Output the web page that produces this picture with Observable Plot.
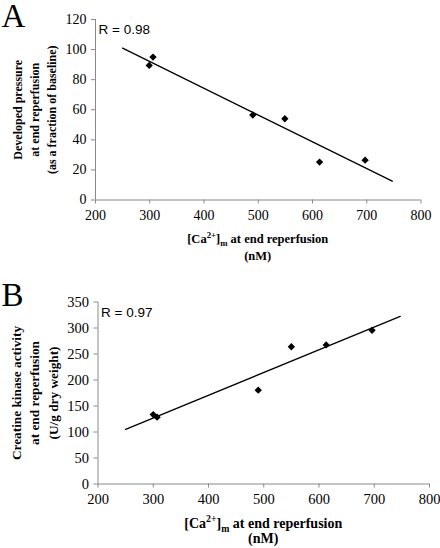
<!DOCTYPE html>
<html>
<head>
<meta charset="utf-8">
<script src="https://cdn.jsdelivr.net/npm/d3@7"></script>
<script src="https://cdn.jsdelivr.net/npm/@observablehq/plot@0.6"></script>
<style>
  html, body { margin: 0; padding: 0; background: #fff; }
  #chart { width: 440px; height: 548px; }
  #chart svg { display: block; }
</style>
</head>
<body>
<div id="chart"></div>
<script>
// ---- data ----
const xTicks = [200, 300, 400, 500, 600, 700, 800];
const yTicksA = [0, 20, 40, 60, 80, 100, 120];
const yTicksB = [0, 50, 100, 150, 200, 250, 300, 350];

// Panel A: developed pressure vs mitochondrial Ca2+
const caA = [299, 306, 490, 549, 613, 697];
const pressure = [89.5, 95, 56.5, 54, 25.2, 26.5];
const fitAx = [250, 747];
const fitAy = [101, 12.5];

// Panel B: creatine kinase activity vs mitochondrial Ca2+
const caB = [300, 307, 490, 550, 613, 696];
const ck = [133.5, 128.5, 180.5, 264, 267.5, 295.5];
const fitBx = [250, 747];
const fitBy = [105, 322.5];

const axisGray = "#8a8a8a";
const serif = "'Liberation Serif', 'Times New Roman', serif";
const sans = "'Liberation Sans', Arial, sans-serif";

function panel(cfg) {
  const idx = d3.range(cfg.xs.length);
  const fitIdx = [0, 1];
  const svg = Plot.plot({
    width: 440,
    height: 274,
    marginLeft: cfg.ml,
    marginRight: cfg.mr,
    marginTop: cfg.mt,
    marginBottom: cfg.mb,
    style: { fontFamily: serif, fontSize: cfg.tickFont + "px", color: "black", background: "white", overflow: "visible" },
    x: { domain: [200, 800] },
    y: { domain: cfg.yDomain },
    marks: [
      Plot.axisX(xTicks, { tickSize: 4, tickPadding: 6, stroke: axisGray, fill: "black", label: null, fontSize: cfg.tickFont, fontFamily: serif }),
      Plot.axisY(cfg.yTicks, { tickSize: 4, tickPadding: 5, stroke: axisGray, fill: "black", label: null, fontSize: cfg.tickFont, fontFamily: serif }),
      Plot.ruleY([cfg.yDomain[0]], { stroke: axisGray }),
      Plot.ruleX([200], { stroke: axisGray }),
      Plot.line(fitIdx, { x: i => cfg.fitX[i], y: i => cfg.fitY[i], stroke: "black", strokeWidth: 1.3 }),
      Plot.dot(idx, { x: i => cfg.xs[i], y: i => cfg.ys[i], symbol: "diamond2", r: 3.3, fill: "black", stroke: "none" }),
      Plot.text([cfg.rText], { frameAnchor: "top-left", dx: 3, dy: cfg.rDy, textAnchor: "start", lineAnchor: "middle", fontFamily: sans, fontSize: 13.5, fill: "black" }),
      Plot.text([cfg.yLabel], { frameAnchor: "left", dx: cfg.yLabelDx, rotate: -90, textAnchor: "middle", lineAnchor: "middle", lineHeight: cfg.yLabelLH, fontWeight: "bold", fontSize: cfg.yLabelFont, fontFamily: serif, fill: "black" }),
      Plot.text([cfg.letter], { frameAnchor: "top-left", dx: -cfg.ml + 1, dy: cfg.letterDy, textAnchor: "start", lineAnchor: "bottom", fontSize: 33, fontFamily: serif, fill: "black" })
    ]
  });
  // x-axis label with superscript / subscript
  const s = d3.select(svg);
  const cx = cfg.ml + (440 - cfg.ml - cfg.mr) / 2;
  const t = s.append("text")
    .attr("x", cx).attr("y", cfg.xLabelY)
    .attr("text-anchor", "middle")
    .attr("font-family", serif).attr("font-weight", "bold")
    .attr("font-size", cfg.xLabelFont).attr("fill", "black");
  t.append("tspan").text("[Ca");
  t.append("tspan").attr("dy", -cfg.xLabelFont * 0.4).attr("font-size", cfg.xLabelFont * 0.7).text("2+");
  t.append("tspan").attr("dy", cfg.xLabelFont * 0.4).text("]");
  t.append("tspan").attr("dy", cfg.xLabelFont * 0.25).attr("font-size", cfg.xLabelFont * 0.7).text("m");
  t.append("tspan").attr("dy", -cfg.xLabelFont * 0.25).text(" at end reperfusion");
  s.append("text")
    .attr("x", cx).attr("y", cfg.xLabelY + cfg.xLabelGap)
    .attr("text-anchor", "middle")
    .attr("font-family", serif).attr("font-weight", "bold")
    .attr("font-size", cfg.xLabelFont).attr("fill", "black")
    .text("(nM)");
  return svg;
}

const chart = document.getElementById("chart");
chart.append(panel({
  xs: caA, ys: pressure, fitX: fitAx, fitY: fitAy,
  yDomain: [0, 120], yTicks: yTicksA,
  ml: 95, mr: 19.5, mt: 19, mb: 74.5,
  tickFont: 14,
  rText: "R = 0.98", rDy: 10,
  yLabel: "Developed pressure\nat end reperfusion\n(as a fraction of baseline)",
  yLabelDx: -62, yLabelLH: 1.42, yLabelFont: 12,
  letter: "A", letterDy: 7,
  xLabelY: 243, xLabelGap: 17, xLabelFont: 12.5
}));
chart.append(panel({
  xs: caB, ys: ck, fitX: fitBx, fitY: fitBy,
  yDomain: [0, 350], yTicks: yTicksB,
  ml: 97.5, mr: 11, mt: 27.5, mb: 64.5,
  tickFont: 14.5,
  rText: "R = 0.97", rDy: 10.5,
  yLabel: "Creatine kinase activity\nat end reperfusion\n(U/g dry weight)",
  yLabelDx: -64.5, yLabelLH: 1.4, yLabelFont: 13.3,
  letter: "B", letterDy: 3.5,
  xLabelY: 254, xLabelGap: 15, xLabelFont: 14
}));
</script>
</body>
</html>
